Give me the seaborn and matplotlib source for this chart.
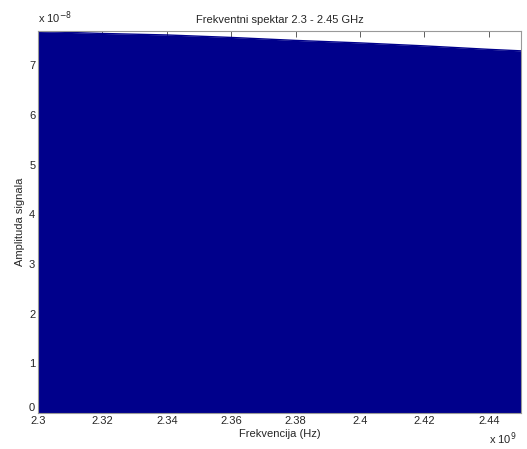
import matplotlib
matplotlib.use("Agg")
import matplotlib.pyplot as plt
import seaborn as sns
import pandas as pd

# Frequency in units of 1e9 Hz, amplitude in units of 1e-8
freq = [2.30, 2.32, 2.34, 2.36, 2.38, 2.40, 2.42, 2.44, 2.45]
amp = [7.68, 7.64, 7.61, 7.56, 7.50, 7.45, 7.39, 7.32, 7.29]
xticks = [2.30, 2.32, 2.34, 2.36, 2.38, 2.40, 2.42, 2.44]
xticklabels = ["2.3", "2.32", "2.34", "2.36", "2.38", "2.4", "2.42", "2.44"]
yticks = [0, 1, 2, 3, 4, 5, 6, 7]

df = pd.DataFrame({"f": freq, "a": amp})

sns.set_style("white")
plt.rcParams["font.family"] = ["Liberation Sans", "DejaVu Sans"]
plt.rcParams["font.size"] = 8

fig = plt.figure(figsize=(5.27, 4.49), dpi=100)
ax = fig.add_axes([0.0721, 0.0802, 0.9165, 0.8508])
navy = "#00008B"
sns.lineplot(data=df, x="f", y="a", ax=ax, color=navy, linewidth=1)
ax.fill_between(df["f"], 0, df["a"], color=navy, linewidth=0)

ax.set_xlim(2.30, 2.45)
ax.set_ylim(0, 7.69)
ax.set_xticks(xticks)
ax.set_xticklabels(xticklabels)
ax.set_yticks(yticks)
ax.tick_params(direction="in", length=4, width=0.6, color="#444444",
               top=True, right=True, labelsize=8, pad=2)
for lbl in ax.get_yticklabels():
    if lbl.get_text() == "0":
        lbl.set_va("bottom")
for s in ax.spines.values():
    s.set_color("#999999")
    s.set_linewidth(0.8)
ax.set_xlabel("Frekvencija (Hz)", fontsize=8, labelpad=2)
ax.set_ylabel("Amplituda signala", fontsize=8, labelpad=3)
ax.set_title("Frekventni spektar 2.3 - 2.45 GHz", fontsize=8, pad=6)
ax.text(0.0, 1.012, r"x 10$^{-8}$", transform=ax.transAxes, fontsize=8,
        ha="left", va="bottom")
ax.text(0.99, -0.045, r"x 10$^{9}$", transform=ax.transAxes, fontsize=8,
        ha="right", va="top")
fig.savefig("out.png", dpi=100)
